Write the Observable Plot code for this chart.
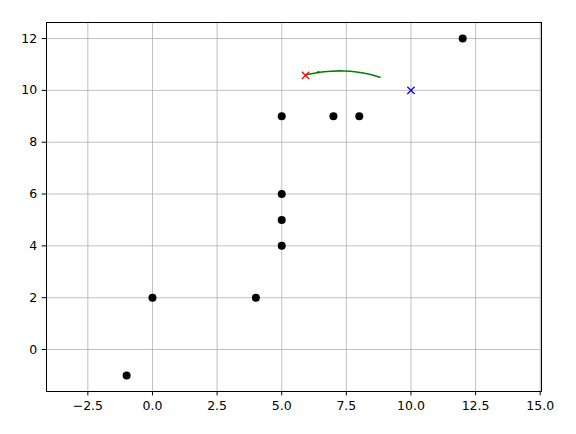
<!DOCTYPE html>
<html>
<head>
<meta charset="utf-8">
<script src="https://cdn.jsdelivr.net/npm/d3@7"></script>
<script src="https://cdn.jsdelivr.net/npm/@observablehq/plot@0.6"></script>
<style>
  body { margin: 0; background: #fff; }
  #chart svg text { font-family: "DejaVu Sans", sans-serif !important; font-size: 12.5px !important; fill: #000; }
</style>
</head>
<body>
<div id="chart"></div>
<script>
const pointX = [-1, 0, 4, 5, 5, 5, 5, 7, 8, 12];
const pointY = [-1, 2, 2, 4, 5, 6, 9, 9, 9, 12];
const startX = [5.92];
const startY = [10.58];
const goalX = [10];
const goalY = [10];
const arcX = [5.95, 6.4, 6.9, 7.4, 7.9, 8.4, 8.8];
const arcY = [10.6, 10.69, 10.74, 10.75, 10.71, 10.62, 10.51];
const arrowX = [6.42];
const arrowY = [10.7];
const xTicks = [-2.5, 0, 2.5, 5, 7.5, 10, 12.5, 15];
const yTicks = [0, 2, 4, 6, 8, 10, 12];

const pts = pointX.map((x, i) => ({x, y: pointY[i]}));
const arc = arcX.map((x, i) => ({x, y: arcY[i]}));
const start = startX.map((x, i) => ({x, y: startY[i]}));
const goal = goalX.map((x, i) => ({x, y: goalY[i]}));
const arrow = arrowX.map((x, i) => ({x, y: arrowY[i]}));
const fmt = d => (d < 0 ? "\u2212" : "") + Math.abs(d).toFixed(1);

const chart = Plot.plot({
  width: 576,
  height: 434,
  marginLeft: 46,
  marginRight: 35,
  marginTop: 22,
  marginBottom: 43,
  style: {fontSize: "12.5px", fontFamily: "DejaVu Sans, sans-serif", color: "#000"},
  x: {domain: [-4.1, 15.05], label: null},
  y: {domain: [-1.62, 12.62], label: null},
  marks: [
    Plot.gridX(xTicks, {stroke: "#b0b0b0", strokeOpacity: 1, strokeWidth: 0.8}),
    Plot.gridY(yTicks, {stroke: "#b0b0b0", strokeOpacity: 1, strokeWidth: 0.8}),
    Plot.axisX({ticks: xTicks, tickFormat: fmt, tickSize: 4.4, tickPadding: 5, label: null}),
    Plot.axisY({ticks: yTicks, tickSize: 4.4, tickPadding: 5, label: null}),
    Plot.line(arc, {x: "x", y: "y", stroke: "green", strokeWidth: 1.6, curve: "natural"}),
    Plot.dot(arrow, {x: "x", y: "y", fill: "green", r: 1.3}),
    Plot.dot(start, {x: "x", y: "y", symbol: "times", stroke: "red", r: 3.4, strokeWidth: 1.2}),
    Plot.dot(goal, {x: "x", y: "y", symbol: "times", stroke: "blue", r: 3.4, strokeWidth: 1.2}),
    Plot.dot(pts, {x: "x", y: "y", fill: "black", r: 4}),
    Plot.frame({stroke: "black", strokeWidth: 1})
  ]
});
document.getElementById("chart").appendChild(chart);
</script>
</body>
</html>
